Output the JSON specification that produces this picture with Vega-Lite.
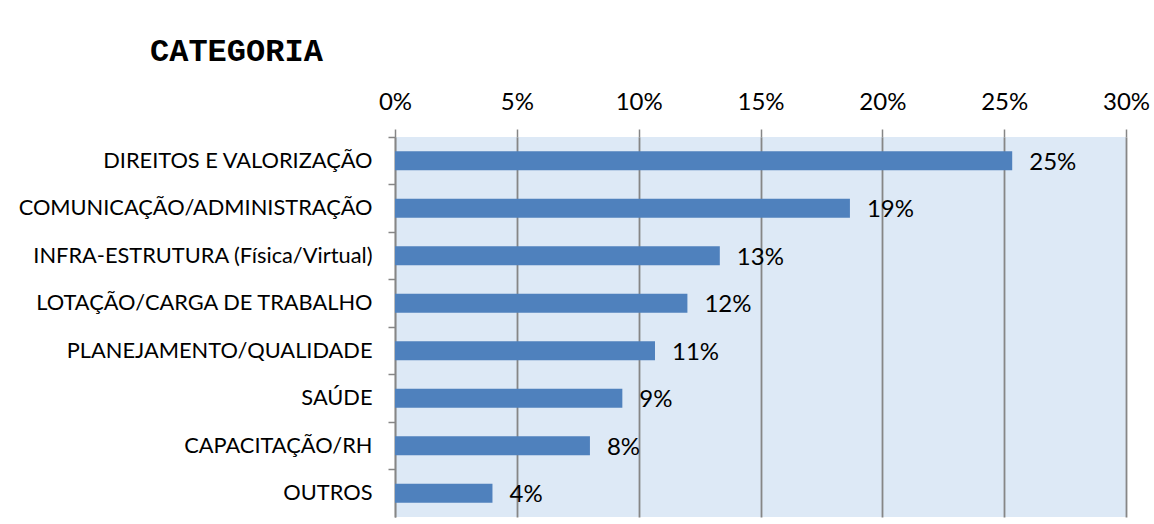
{
  "$schema": "https://vega.github.io/schema/vega-lite/v6.json",
  "width": 731,
  "height": 380,
  "autosize": {"type": "none"},
  "padding": {"left": 395, "top": 137, "right": 28, "bottom": 7},
  "background": "white",
  "title": {
    "text": "CATEGORIA",
    "anchor": "start",
    "frame": "group",
    "font": "Liberation Mono",
    "fontSize": 32,
    "fontWeight": "bold",
    "color": "black",
    "dx": -245,
    "offset": 22
  },
  "data": {
    "values": [
      {"categoria": "DIREITOS E VALORIZAÇÃO", "valor": 0.2533},
      {"categoria": "COMUNICAÇÃO/ADMINISTRAÇÃO", "valor": 0.1867},
      {"categoria": "INFRA-ESTRUTURA (Física/Virtual)", "valor": 0.1333},
      {"categoria": "LOTAÇÃO/CARGA DE TRABALHO", "valor": 0.12},
      {"categoria": "PLANEJAMENTO/QUALIDADE", "valor": 0.1067},
      {"categoria": "SAÚDE", "valor": 0.0933},
      {"categoria": "CAPACITAÇÃO/RH", "valor": 0.08},
      {"categoria": "OUTROS", "valor": 0.04}
    ]
  },
  "encoding": {
    "y": {
      "field": "categoria",
      "type": "nominal",
      "sort": null,
      "scale": {"paddingInner": 0, "paddingOuter": 0},
      "axis": {
        "title": null,
        "orient": "left",
        "bandPosition": 0,
        "domainColor": "#868686",
        "domainWidth": 1.5,
        "tickColor": "#868686",
        "tickWidth": 1.5,
        "tickSize": 7,
        "labelFont": "Lato",
        "labelFontSize": 21.8,
        "labelColor": "black",
        "labelPadding": 16,
        "labelLimit": 0,
        "grid": false
      }
    },
    "x": {
      "field": "valor",
      "type": "quantitative",
      "scale": {"domain": [0, 0.3], "nice": false},
      "axis": {
        "title": null,
        "orient": "top",
        "format": ".0%",
        "values": [0, 0.05, 0.1, 0.15, 0.2, 0.25, 0.3],
        "domain": false,
        "grid": true,
        "gridColor": "#868686",
        "gridWidth": 1.8,
        "gridOpacity": 1,
        "tickColor": "#868686",
        "tickWidth": 1.5,
        "tickSize": 8,
        "labelFont": "Lato",
        "labelFontSize": 24,
        "labelColor": "black",
        "labelPadding": 15,
        "labelFlush": false,
        "labelOverlap": false
      }
    }
  },
  "layer": [
    {
      "mark": {"type": "bar", "color": "#4f81bd", "height": {"band": 0.4}}
    },
    {
      "mark": {
        "type": "text",
        "align": "left",
        "baseline": "middle",
        "dx": 17,
        "dy": 2,
        "font": "Lato",
        "fontSize": 24,
        "color": "black"
      },
      "encoding": {
        "text": {"field": "valor", "type": "quantitative", "format": ".0%"}
      }
    }
  ],
  "config": {
    "view": {"stroke": null, "fill": "#dde9f6"}
  }
}
